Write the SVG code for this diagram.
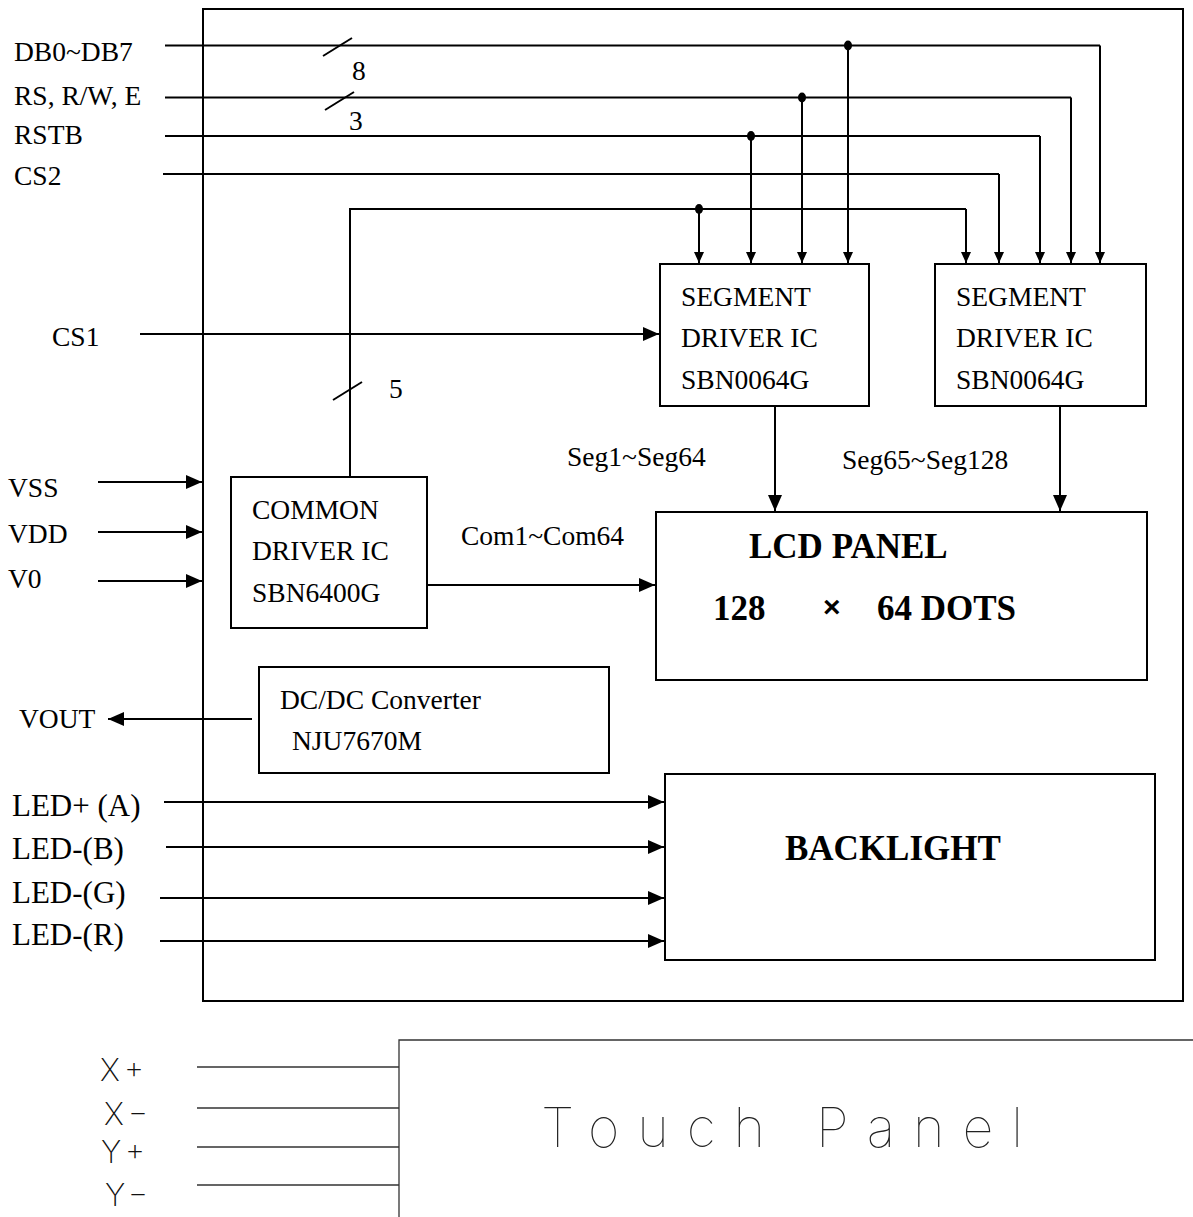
<svg xmlns="http://www.w3.org/2000/svg" width="1193" height="1217" viewBox="0 0 1193 1217">
<style>
.t{font-family:"Liberation Serif","Times New Roman",serif;font-size:27.5px;fill:#000}
.led{font-family:"Liberation Serif","Times New Roman",serif;font-size:31px;fill:#000}
.b{font-family:"Liberation Serif","Times New Roman",serif;font-size:35px;font-weight:bold;fill:#000}
.x{font-family:"Liberation Sans",Arial,sans-serif;font-size:30px;font-weight:bold;fill:#000}
.tp{font-family:Inter,Roboto,Lato,"DejaVu Sans",sans-serif;font-weight:100;fill:#222}
.tl{font-family:Inter,Roboto,Lato,"DejaVu Sans",sans-serif;font-weight:200;fill:#111}
.box{fill:none;stroke:#000;stroke-width:2}
.w{fill:none;stroke:#000;stroke-width:2}
.wa{fill:none;stroke:#000;stroke-width:2;marker-end:url(#ah)}
.ws{fill:none;stroke:#000;stroke-width:2;marker-end:url(#as)}
.thin{fill:none;stroke:#333;stroke-width:1.3}
</style>
<defs>
<marker id="ah" markerUnits="userSpaceOnUse" markerWidth="16" markerHeight="14" refX="16" refY="7" orient="auto"><path d="M0,0 L16,7 L0,14 z" fill="#000"/></marker>
<marker id="as" markerUnits="userSpaceOnUse" markerWidth="11" markerHeight="10" refX="11" refY="5" orient="auto"><path d="M0,0 L11,5 L0,10 z" fill="#000"/></marker>
</defs>
<rect width="1193" height="1217" fill="#fff"/>
<g id="module"><rect class="box" x="203" y="9" width="980" height="992"/></g>
<g id="seg1"><rect class="box" x="660" y="264" width="209" height="142"/>
<text class="t" x="681" y="306">SEGMENT</text><text class="t" x="681" y="347">DRIVER IC</text><text class="t" x="681" y="389">SBN0064G</text></g>
<g id="seg2"><rect class="box" x="935" y="264" width="211" height="142"/>
<text class="t" x="956" y="306">SEGMENT</text><text class="t" x="956" y="347">DRIVER IC</text><text class="t" x="956" y="389">SBN0064G</text></g>
<g id="common"><rect class="box" x="231" y="477" width="196" height="151"/>
<text class="t" x="252" y="519">COMMON</text><text class="t" x="252" y="560">DRIVER IC</text><text class="t" x="252" y="602">SBN6400G</text></g>
<g id="lcd"><rect class="box" x="656" y="512" width="491" height="168"/>
<text class="b" x="749" y="558">LCD PANEL</text><text class="b" x="713" y="620">128</text><text class="x" x="823" y="617">×</text><text class="b" x="877" y="620">64 DOTS</text></g>
<g id="dcdc"><rect class="box" x="259" y="667" width="350" height="106"/>
<text class="t" x="280" y="709">DC/DC Converter</text><text class="t" x="292" y="750">NJU7670M</text></g>
<g id="backlight"><rect class="box" x="665" y="774" width="490" height="186"/>
<text class="b" x="785" y="860">BACKLIGHT</text></g>
<g id="touch"><path class="thin" d="M399,1217 V1040 H1193"/>
<text class="tp" x="541" y="1147" font-size="54" textLength="482" lengthAdjust="spacing">Touch Panel</text></g>
<g id="labels">
<text class="t" x="14" y="61">DB0~DB7</text>
<text class="t" x="14" y="105">RS, R/W, E</text>
<text class="t" x="14" y="144">RSTB</text>
<text class="t" x="14" y="185">CS2</text>
<text class="t" x="352" y="80">8</text>
<text class="t" x="349" y="130">3</text>
<text class="t" x="52" y="346">CS1</text>
<text class="t" x="389" y="398">5</text>
<text class="t" x="567" y="466">Seg1~Seg64</text>
<text class="t" x="842" y="469">Seg65~Seg128</text>
<text class="t" x="8" y="497">VSS</text>
<text class="t" x="8" y="543">VDD</text>
<text class="t" x="8" y="588">V0</text>
<text class="t" x="461" y="545">Com1~Com64</text>
<text class="t" x="19" y="728">VOUT</text>
<text class="led" x="12" y="816">LED+ (A)</text>
<text class="led" x="12" y="859">LED-(B)</text>
<text class="led" x="12" y="903">LED-(G)</text>
<text class="led" x="12" y="945">LED-(R)</text>
<text class="tl" x="100" y="1081" font-size="31" textLength="44" lengthAdjust="spacing">X+</text>
<text class="tl" x="104" y="1125" font-size="31" textLength="44" lengthAdjust="spacing">X−</text>
<text class="tl" x="101" y="1163" font-size="31" textLength="44" lengthAdjust="spacing">Y+</text>
<text class="tl" x="105" y="1206" font-size="31" textLength="43" lengthAdjust="spacing">Y−</text>
</g>
<g id="connectors">
<path class="w" d="M165,45.5 H1100"/>
<path class="w" d="M165,97.5 H1071"/>
<path class="w" d="M165,136 H1040"/>
<path class="w" d="M163,174 H999"/>
<path class="w" d="M350,477 V209 H966"/>
<path class="ws" d="M848,45.5 V263"/>
<path class="ws" d="M1100,45.5 V263"/>
<path class="ws" d="M802,97.5 V263"/>
<path class="ws" d="M1071,97.5 V263"/>
<path class="ws" d="M751,136 V263"/>
<path class="ws" d="M1040,136 V263"/>
<path class="ws" d="M999,174 V263"/>
<path class="ws" d="M699,209 V263"/>
<path class="ws" d="M966,209 V263"/>
<ellipse cx="848" cy="45.5" rx="4" ry="5"/>
<ellipse cx="802" cy="97.5" rx="4" ry="5"/>
<ellipse cx="751" cy="136" rx="4" ry="5"/>
<ellipse cx="699" cy="209" rx="4" ry="5"/>
<path class="w" d="M323,56 L352,38"/>
<path class="w" d="M325,110 L354,92"/>
<path class="w" d="M333,400 L362,382"/>
<path class="wa" d="M140,334 H659"/>
<path class="wa" d="M775,406 V511"/>
<path class="wa" d="M1060,406 V511"/>
<path class="wa" d="M98,482 H202"/>
<path class="wa" d="M98,532 H202"/>
<path class="wa" d="M98,581 H202"/>
<path class="wa" d="M428,585 H655"/>
<path class="wa" d="M252,719 H108"/>
<path class="wa" d="M164,802 H664"/>
<path class="wa" d="M166,847 H664"/>
<path class="wa" d="M160,898 H664"/>
<path class="wa" d="M160,941 H664"/>
<path class="thin" d="M197,1067 H399 M197,1108 H399 M197,1147 H399 M197,1185 H399"/>
</g>
</svg>
